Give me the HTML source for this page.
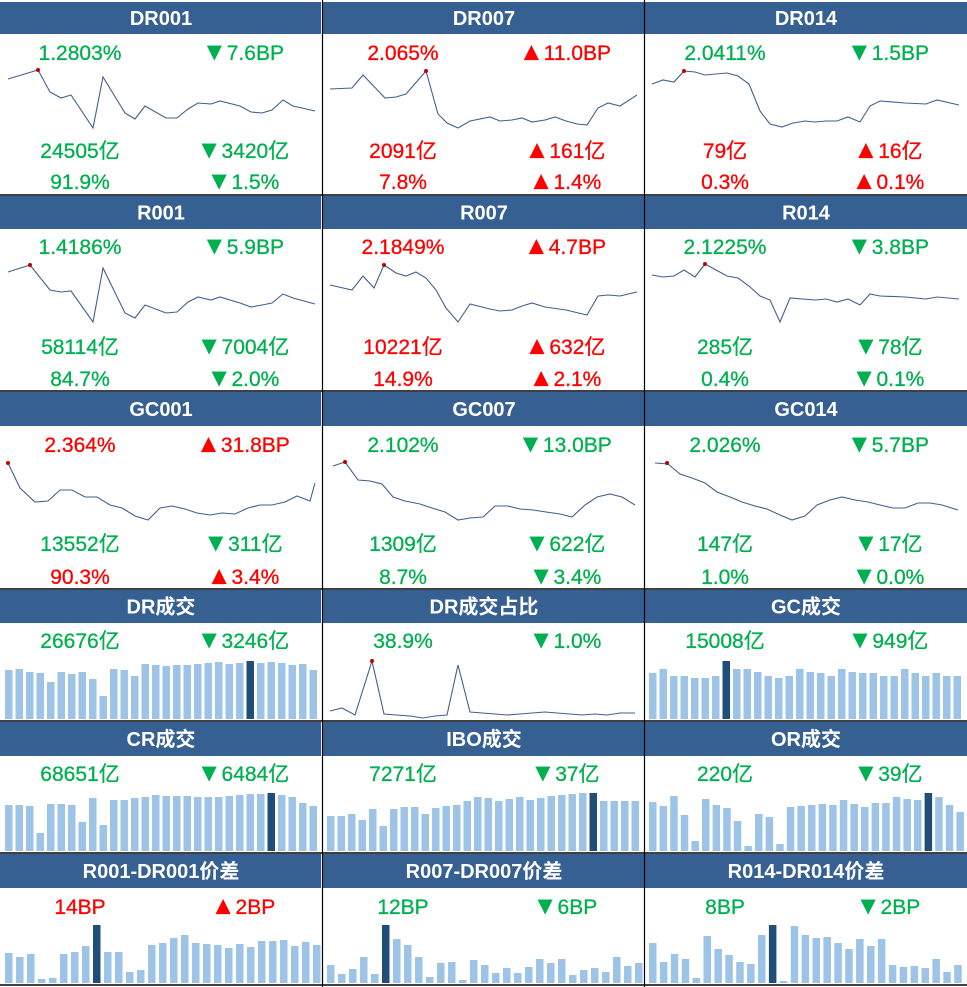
<!DOCTYPE html>
<html><head><meta charset="utf-8"><style>
html,body{margin:0;padding:0;background:#fff}
svg{display:block}
text{font-family:"Liberation Sans","Noto Sans CJK SC",sans-serif}
</style></head><body>
<svg id="s" width="967" height="987" xmlns="http://www.w3.org/2000/svg"></svg>
<script>
const s=document.getElementById('s');let h='';
const G='#00b050',R='#ff0000',HB='#366092',BL='#9dc3e6',DK='#1f4e79';
const cols=[0,323,645];
function hdr(y,hh,titles){titles.forEach((t,i)=>{h+=`<rect x="${cols[i]}" y="${y}" width="${i==2?322:321}" height="${hh}" fill="${HB}"/>`;
h+=`<text x="${cols[i]+161}" y="${y+hh/2+7}" fill="#fff" font-size="20" font-weight="bold" text-anchor="middle">${t}</text>`;});}
function tx(x,y,t,c){let m=t.match(/^([▼▲])(.*)$/);
if(m){h+=`<text x="${x}" y="${y}" fill="${c}" font-size="21" text-anchor="middle" stroke="${c}" stroke-width="0.3"><tspan font-size="25">${m[1]}</tspan>${m[2]}</text>`;}
else h+=`<text x="${x}" y="${y}" fill="${c}" font-size="21" text-anchor="middle" stroke="${c}" stroke-width="0.3">${t}</text>`;}
function line(pts,dot){h+=`<polyline fill="none" stroke="#41608f" stroke-width="1.1" points="${pts.map(p=>p.join(',')).join(' ')}"/>`;
h+=`<circle cx="${dot[0]}" cy="${dot[1]}" r="2" fill="#c00000"/>`;}
function bars(x0,pitch,base,tops,dark){tops.forEach((t,i)=>{h+=`<rect x="${(x0+i*pitch).toFixed(1)}" y="${t}" width="7.5" height="${base-t}" fill="${i==dark?DK:BL}"/>`;});}
hdr(2,32,['DR001','DR007','DR014']);
hdr(196,33,['R001','R007','R014']);
hdr(392,34,['GC001','GC007','GC014']);
hdr(590,33,['DR成交','DR成交占比','GC成交']);
hdr(722,34,['CR成交','IBO成交','OR成交']);
hdr(854,34,['R001-DR001价差','R007-DR007价差','R014-DR014价差']);
const L=[80,403,725],Rr=[243,565,888];
function row(y,vals){vals.forEach((v,i)=>{tx(L[i],y,v[0],v[1]);tx(Rr[i],y,v[2],v[3]);});}
row(60,[['1.2803%',G,'▼7.6BP',G],['2.065%',R,'▲11.0BP',R],['2.0411%',G,'▼1.5BP',G]]);
row(158,[['24505亿',G,'▼3420亿',G],['2091亿',R,'▲161亿',R],['79亿',R,'▲16亿',R]]);
row(189,[['91.9%',G,'▼1.5%',G],['7.8%',R,'▲1.4%',R],['0.3%',R,'▲0.1%',R]]);
row(254,[['1.4186%',G,'▼5.9BP',G],['2.1849%',R,'▲4.7BP',R],['2.1225%',G,'▼3.8BP',G]]);
row(354,[['58114亿',G,'▼7004亿',G],['10221亿',R,'▲632亿',R],['285亿',G,'▼78亿',G]]);
row(386,[['84.7%',G,'▼2.0%',G],['14.9%',R,'▲2.1%',R],['0.4%',G,'▼0.1%',G]]);
row(452,[['2.364%',R,'▲31.8BP',R],['2.102%',G,'▼13.0BP',G],['2.026%',G,'▼5.7BP',G]]);
row(551,[['13552亿',G,'▼311亿',G],['1309亿',G,'▼622亿',G],['147亿',G,'▼17亿',G]]);
row(584,[['90.3%',R,'▲3.4%',R],['8.7%',G,'▼3.4%',G],['1.0%',G,'▼0.0%',G]]);
row(648,[['26676亿',G,'▼3246亿',G],['38.9%',G,'▼1.0%',G],['15008亿',G,'▼949亿',G]]);
row(781,[['68651亿',G,'▼6484亿',G],['7271亿',G,'▼37亿',G],['220亿',G,'▼39亿',G]]);
row(914,[['14BP',R,'▲2BP',R],['12BP',G,'▼6BP',G],['8BP',G,'▼2BP',G]]);
line([[8,79],[38,70],[50,92],[61,98],[71,95],[93,128],[103,77],[125,113],[135,119],[145,106],[166,118],[177,118],[188,109],[198,103],[211,104],[220,101],[240,106],[251,112],[262,113],[272,110],[283,100],[293,106],[315,111]],[38,70]);
line([[330,89],[352,88],[363,75],[385,98],[396,97],[406,94],[426,71],[438,114],[447,123],[458,128],[470,121],[490,117],[500,121],[512,120],[522,118],[532,122],[545,120],[555,117],[566,121],[577,124],[587,125],[598,108],[608,103],[620,106],[637,95]],[426,71]);
line([[652,84],[663,80],[674,82],[684,71],[695,72],[705,75],[716,74],[727,73],[738,76],[749,84],[760,111],[770,124],[782,127],[793,123],[805,121],[815,122],[826,121],[837,121],[848,117],[860,122],[870,106],[880,101],[905,103],[926,104],[937,100],[959,105]],[684,71]);
line([[8,272],[30,265],[50,290],[61,292],[71,291],[93,322],[103,268],[125,313],[135,318],[145,305],[166,313],[177,312],[188,302],[198,297],[211,300],[220,297],[240,303],[251,307],[262,305],[272,303],[283,294],[293,298],[315,304]],[30,265]);
line([[330,285],[352,290],[363,276],[374,288],[384,265],[396,273],[406,276],[416,272],[426,278],[436,290],[446,308],[458,322],[470,304],[490,309],[500,311],[512,310],[522,306],[532,303],[545,307],[566,310],[587,315],[598,296],[608,295],[620,296],[637,292]],[384,265]);
line([[652,275],[663,277],[674,276],[684,270],[695,277],[705,264],[716,270],[727,276],[738,278],[749,286],[760,296],[770,300],[780,322],[790,298],[815,300],[826,299],[837,302],[848,299],[860,305],[870,294],[880,296],[905,297],[926,299],[937,297],[959,299]],[705,264]);
line([[8,463],[20,488],[35,502],[48,501],[60,490],[72,490],[85,497],[97,497],[110,505],[122,508],[135,516],[148,520],[160,508],[172,506],[185,509],[197,513],[210,515],[222,513],[235,514],[248,508],[260,505],[272,505],[285,502],[297,496],[310,501],[315,483]],[8,463]);
line([[333,466],[345,462],[358,480],[370,481],[382,484],[393,497],[405,501],[420,504],[432,508],[445,512],[458,520],[470,518],[483,517],[495,506],[508,506],[520,509],[533,510],[546,512],[560,514],[572,517],[585,505],[597,497],[610,494],[622,497],[635,505]],[345,462]);
line([[655,463],[668,464],[680,474],[692,478],[705,483],[717,492],[730,497],[742,502],[755,506],[767,509],[780,515],[792,520],[805,516],[817,505],[830,500],[842,497],[855,500],[868,502],[880,505],[893,508],[905,508],[918,503],[930,503],[942,505],[958,510]],[667,463]);
line([[330,711],[342,708],[355,715],[372,661],[384,714],[396,715],[410,716],[423,718],[435,716],[447,715],[458,665],[470,712],[482,713],[495,714],[507,715],[520,714],[532,713],[545,712],[557,713],[570,714],[582,715],[595,714],[607,715],[620,713],[635,713]],[372,661]);
bars(5,10.5,719,[670,669,672,673,682,672,674,672,679,696,669,670,676,664,665,666,665,665,664,663,662,664,663,661,663,662,663,665,664,670],23);
bars(649,10.5,719,[673,669,676,676,678,678,676,661,669,669,672,676,678,676,669,672,673,676,669,672,673,673,676,676,669,673,676,673,676,676],7);
bars(5,10.5,851,[805,805,806,833,804,804,805,822,798,825,800,800,798,797,795,796,796,796,797,797,797,796,795,794,794,793,795,797,803,806],25);
bars(327,10.5,851,[816,816,814,820,809,826,809,807,807,814,808,806,805,801,797,798,801,799,797,800,798,796,795,794,793,793,801,801,801,801],25);
bars(649,10.6,851,[138,150,120,177,255,129,147,156,195,270,174,183,264,153,150,147,144,147,132,144,153,141,141,123,129,132,111,123,147,168].map(v=>Math.round(756+v/3)),26);
bars(5,11,983,[195,207,198,272,269,198,192,174,111,192,192,252,246,171,165,150,141,165,168,171,180,168,177,159,159,156,174,162,171].map(v=>Math.round(888+v/3)),8);
bars(327,11,983,[231,258,243,207,258,111,153,171,207,267,225,222,276,216,231,255,240,255,237,213,225,213,261,246,240,252,207,234,225].map(v=>Math.round(888+v/3)),5);
bars(649,10.9,983,[561,618,594,609,666,540,579,597,618,624,537,507,675,510,537,546,543,561,579,549,570,549,627,633,630,636,609,648,627].map(v=>Math.round(756+v/3)),11);
[322,644].forEach(x=>h+=`<line x1="${x+0.5}" y1="0" x2="${x+0.5}" y2="987" stroke="#000" stroke-width="1.2"/>`);
[195,391,589,721,853,985].forEach(y=>h+=`<line x1="0" y1="${y}" x2="967" y2="${y}" stroke="#000" stroke-width="1.5"/>`);
s.innerHTML=h;
</script>
</body></html>
